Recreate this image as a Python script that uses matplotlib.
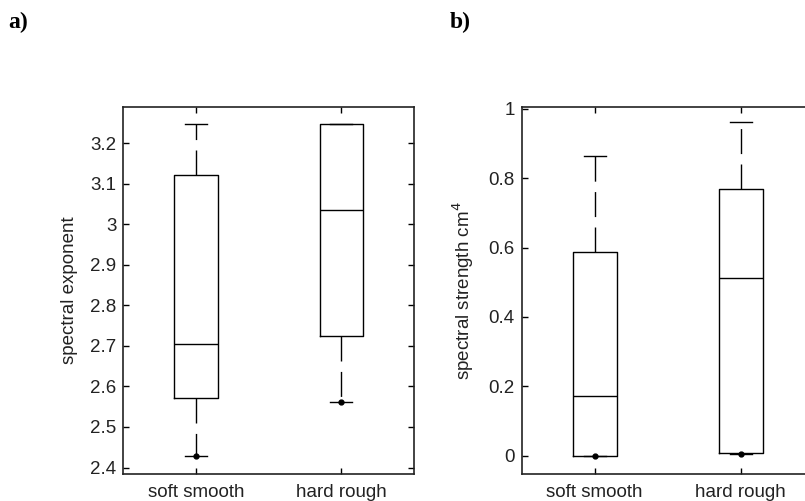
import matplotlib
matplotlib.use("Agg")
import matplotlib.pyplot as plt

plt.rcParams['font.family'] = ['Liberation Sans', 'DejaVu Sans']
plt.rcParams['lines.scale_dashes'] = False

categories = ["soft smooth", "hard rough"]

# spectral exponent: whisker low, Q1, median, Q3, whisker high
exp_lo = [2.429, 2.562]
exp_q1 = [2.571, 2.723]
exp_med = [2.704, 3.036]
exp_q3 = [3.120, 3.248]
exp_hi = [3.248, 3.248]

# spectral strength (cm^4)
str_lo = [0.000, 0.006]
str_q1 = [0.000, 0.009]
str_med = [0.172, 0.512]
str_q3 = [0.586, 0.768]
str_hi = [0.864, 0.960]

exp_ticks = [2.4, 2.5, 2.6, 2.7, 2.8, 2.9, 3.0, 3.1, 3.2]
exp_ticklabels = ["2.4", "2.5", "2.6", "2.7", "2.8", "2.9", "3", "3.1", "3.2"]
str_ticks = [0, 0.2, 0.4, 0.6, 0.8, 1.0]
str_ticklabels = ["0", "0.2", "0.4", "0.6", "0.8", "1"]


def make_stats(lo, q1, med, q3, hi):
    stats = []
    for i in range(len(categories)):
        stats.append(dict(whislo=lo[i], q1=q1[i], med=med[i], q3=q3[i],
                          whishi=hi[i], fliers=[lo[i]], label=categories[i]))
    return stats


def draw_panel(ax, stats, ylim, ticks, ticklabels, ylabel):
    line = dict(color="black", linewidth=1.0)
    ax.bxp(stats, positions=[1, 2], widths=0.3,
           boxprops=line, medianprops=line, capprops=line,
           whiskerprops=dict(color="black", linewidth=1.0, linestyle=(0, (18, 7.5))),
           flierprops=dict(marker="o", markersize=3.5, markerfacecolor="black",
                           markeredgecolor="black"),
           capwidths=0.15, showfliers=True)
    ax.set_xlim(0.5, 2.5)
    ax.set_ylim(*ylim)
    ax.set_yticks(ticks)
    ax.set_yticklabels(ticklabels)
    ax.set_xticks([1, 2])
    ax.set_xticklabels(categories)
    ax.tick_params(direction="in", length=4, width=1.0, labelsize=13.5,
                   top=True, right=True, color="black", labelcolor="#222222")
    ax.tick_params(axis="y", pad=5)
    ax.tick_params(axis="x", pad=7)
    for s in ax.spines.values():
        s.set_linewidth(1.2)
        s.set_color("#222222")
    ax.set_ylabel(ylabel, fontsize=13.5, labelpad=9, color="#222222")


fig = plt.figure(figsize=(8.05, 5.01), dpi=100)
fig.patch.set_facecolor("white")

ax1 = fig.add_axes([123.3 / 805, 27 / 501, 290.7 / 805, 367.5 / 501])
ax2 = fig.add_axes([521.7 / 805, 27 / 501, 292 / 805, 367.5 / 501])

draw_panel(ax1, make_stats(exp_lo, exp_q1, exp_med, exp_q3, exp_hi),
           (2.384, 3.29), exp_ticks, exp_ticklabels, "spectral exponent")
draw_panel(ax2, make_stats(str_lo, str_q1, str_med, str_q3, str_hi),
           (-0.052, 1.006), str_ticks, str_ticklabels, r"spectral strength cm$^4$")

fig.text(8 / 805, 1 - 22 / 501, "a)", fontsize=17, fontweight="bold",
         family="Liberation Serif", va="center", ha="left")
fig.text(450 / 805, 1 - 22 / 501, "b)", fontsize=17, fontweight="bold",
         family="Liberation Serif", va="center", ha="left")

fig.savefig("out.png", dpi=100, facecolor="white")
